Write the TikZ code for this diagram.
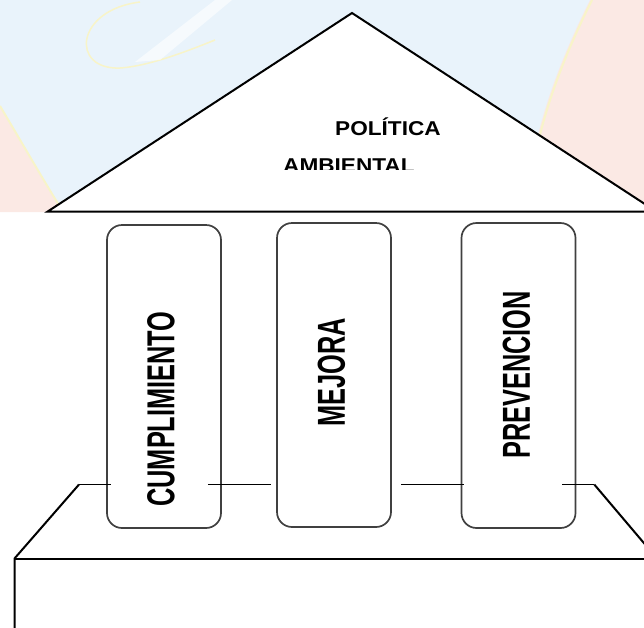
\documentclass[tikz,border=0pt]{standalone}
\usepackage{fontspec}
\setmainfont{Liberation Sans}
\newfontfamily\roofwide[FakeStretch=1.13]{Liberation Sans}
\newfontfamily\pillarnarrow[FakeStretch=0.65]{Liberation Sans}

\definecolor{wmblue}{RGB}{233,243,251}
\definecolor{wmpink}{RGB}{251,233,228}
\definecolor{wmyellow}{RGB}{248,244,200}

\begin{document}
\begin{tikzpicture}[
      x=1pt, y=-1pt,
      every node/.style = {inner sep=0pt},
      roofline/.style   = {draw=black, line width=2pt, line join=miter},
      pillar/.style     = {draw=black!75, line width=1.7pt, rounded corners=15pt, fill=white,
                           minimum width=114pt},
      pillartext/.style = {rotate=90, font=\pillarnarrow\bfseries\fontsize{39}{39}\selectfont},
      rooftext/.style   = {anchor=base west, font=\roofwide\bfseries\fontsize{20}{20}\selectfont},
      beam/.style       = {draw=black, line width=1.6pt}
    ]
    \useasboundingbox (0,0) rectangle (644,627);
    \clip (0,0) rectangle (644,627);

    % faint watermark behind the roof
    \fill[wmblue] (0,0) rectangle (644,212);
    \fill[wmpink] (0,108) .. controls (25,150) and (45,185) .. (62,212) -- (0,212) -- cycle;
    \fill[wmpink] (590,0) .. controls (555,70) and (530,140) .. (526,212) -- (644,212) -- (644,0) -- cycle;
    \draw[wmyellow, line width=2pt] (0,106) .. controls (25,148) and (45,183) .. (62,210);
    \draw[wmyellow, line width=2pt] (592,0) .. controls (557,70) and (532,140) .. (528,212);
    \draw[wmyellow, line width=1.5pt] (140,2) .. controls (75,10) and (70,70) .. (120,68)
                                           .. controls (150,66) and (190,50) .. (215,40);
    \fill[white, opacity=0.6] (215,0) -- (135,62) -- (160,60) -- (232,0) -- cycle;

    % roof
    \coordinate (roofL) at (47.7,211.5);
    \coordinate (apex)  at (352,13);
    \coordinate (roofR) at (656.3,211.5);
    \draw[roofline, fill=white] (roofL) -- (apex) -- (roofR) -- cycle;

    \node (politica) [rooftext] at (335,135.5) {POLÍTICA};
    \begin{scope}
      \clip (270,145) rectangle (430,169.5);
      \node (ambiental) [rooftext] at (283,172.5) {AMBIENTAL};
    \end{scope}

    % pillars
    \node (cump) [pillar, minimum height=303pt] at (164,376.5) {};
    \node (mejo) [pillar, minimum height=304pt] at (334,375)   {};
    \node (prev) [pillar, minimum height=305pt] at (518.5,375.5) {};

    \node (cumptext) [pillartext] at (161,409)     {CUMPLIMIENTO};
    \node (mejotext) [pillartext] at (331.5,372.5) {MEJORA};
    \node (prevtext) [pillartext] at (516.5,375)   {PREVENCION};

    % base
    \coordinate (eaveL) at (79,484.5);
    \coordinate (eaveR) at (594.3,484.5);
    \coordinate (boxTL) at (14.5,558.5);
    \coordinate (boxTR) at (657,558.5);
    \coordinate (boxBL) at (14.5,640);

    \draw[beam] (eaveL)                          to ([xshift=4.4pt]cump.west |- eaveL);
    \draw[beam] ([xshift=-14pt]cump.east |- eaveL) to ([xshift=-5pt]mejo.west |- eaveL);
    \draw[beam] ([xshift=9.5pt]mejo.east |- eaveL)  to ([xshift=3.5pt]prev.west |- eaveL);
    \draw[beam] ([xshift=-14pt]prev.east |- eaveL) to (eaveR);

    \draw[roofline] (eaveL) -- (boxTL) -- (boxBL);
    \draw[roofline] (eaveR) -- (boxTR);
    \draw[roofline] (boxTL) -- (boxTR);

  \end{tikzpicture}
\end{document}
